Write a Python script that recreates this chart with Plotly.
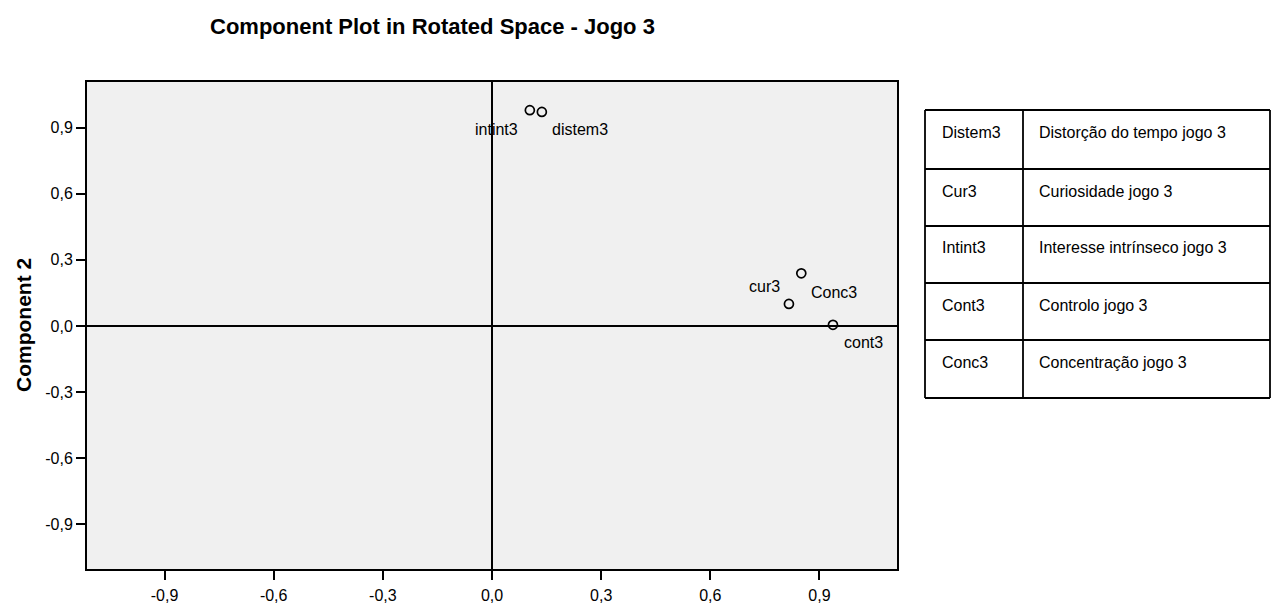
import plotly.graph_objects as go

# Rotated component loadings (Jogo 3)
variables = ["distem3", "cur3", "intint3", "cont3", "Conc3"]
component1 = [0.137, 0.816, 0.104, 0.937, 0.850]
component2 = [0.972, 0.100, 0.980, 0.005, 0.239]

tick_values = [-0.9, -0.6, -0.3, 0.0, 0.3, 0.6, 0.9]
tick_labels = [f"{v:.1f}".replace(".", ",") for v in tick_values]

# Variable legend table
table_codes = ["Distem3", "Cur3", "Intint3", "Cont3", "Conc3"]
table_descriptions = [
    "Distorção do tempo jogo 3",
    "Curiosidade jogo 3",
    "Interesse intrínseco jogo 3",
    "Controlo jogo 3",
    "Concentração jogo 3",
]

W, H = 1271, 603
L, R, T, B = 87, 897, 82, 569
FONT = "Liberation Sans, Arial, sans-serif"

def px(x):
    return (x - L) / (R - L)

def py(y):
    return (B - y) / (B - T)

# label placement around each point: (xanchor, xshift, yshift)
label_place = {
    "distem3": ("left", 8, -18),
    "cur3": ("right", -7, 17),
    "intint3": ("right", -10, -19),
    "cont3": ("left", 9, -18),
    "Conc3": ("left", 8, -19),
}

fig = go.Figure()
fig.add_trace(go.Scatter(
    x=component1, y=component2, mode="markers",
    marker=dict(symbol="circle-open", size=9, color="black", line=dict(width=1.7, color="black")),
    hoverinfo="skip", showlegend=False,
))

annotations = []
for name, xv, yv in zip(variables, component1, component2):
    anchor, xs, ys = label_place[name]
    annotations.append(dict(
        x=xv, y=yv, xref="x", yref="y", text=name, showarrow=False,
        xanchor=anchor, yanchor="middle", xshift=xs, yshift=ys,
        font=dict(family=FONT, size=16, color="black"),
    ))

annotations.append(dict(
    x=px(432), y=py(26), xref="paper", yref="paper",
    text="<b>Component Plot in Rotated Space - Jogo 3</b>", showarrow=False,
    xanchor="center", yanchor="middle",
    font=dict(family=FONT, size=22, color="black"),
))
annotations.append(dict(
    x=px(23), y=py(325), xref="paper", yref="paper",
    text="<b>Component 2</b>", showarrow=False, textangle=-90,
    xanchor="center", yanchor="middle",
    font=dict(family=FONT, size=21, color="black"),
))

# table geometry
tx0, tx1, tcol = 925, 1270, 1023
row_edges = [110, 169, 226, 283, 340, 398]
shapes = []
line_style = dict(color="black", width=1.8)
for yy in row_edges:
    shapes.append(dict(type="line", xref="paper", yref="paper",
                       x0=px(tx0), x1=px(tx1), y0=py(yy), y1=py(yy), line=line_style))
for xx in (tx0, tcol, tx1):
    shapes.append(dict(type="line", xref="paper", yref="paper",
                       x0=px(xx), x1=px(xx), y0=py(row_edges[0]), y1=py(row_edges[-1]), line=line_style))

for i, (code, desc) in enumerate(zip(table_codes, table_descriptions)):
    yc = row_edges[i] + 22
    annotations.append(dict(x=px(940), y=py(yc), xref="paper", yref="paper", text=code,
                            showarrow=False, xanchor="left", yanchor="middle",
                            font=dict(family=FONT, size=16, color="black")))
    annotations.append(dict(x=px(1037), y=py(yc), xref="paper", yref="paper", text=desc,
                            showarrow=False, xanchor="left", yanchor="middle",
                            font=dict(family=FONT, size=16, color="black")))

axis_common = dict(
    tickmode="array", tickvals=tick_values, ticktext=tick_labels,
    ticks="outside", ticklen=9, tickwidth=1.5, tickcolor="black",
    showline=True, linecolor="black", linewidth=2, mirror=True,
    showgrid=False, zeroline=True, zerolinecolor="black", zerolinewidth=1.5,
    tickfont=dict(family=FONT, size=16, color="black"),
    automargin=False,
)

fig.update_layout(
    template="none",
    width=W, height=H,
    margin=dict(l=L, r=W - R, t=T, b=H - B, pad=0),
    paper_bgcolor="white", plot_bgcolor="#f0f0f0",
    xaxis=dict(range=[-1.113, 1.113], ticklabelstandoff=2, **axis_common),
    yaxis=dict(range=[-1.104, 1.108], **axis_common),
    annotations=annotations, shapes=shapes,
)

fig.write_html("out.html")
